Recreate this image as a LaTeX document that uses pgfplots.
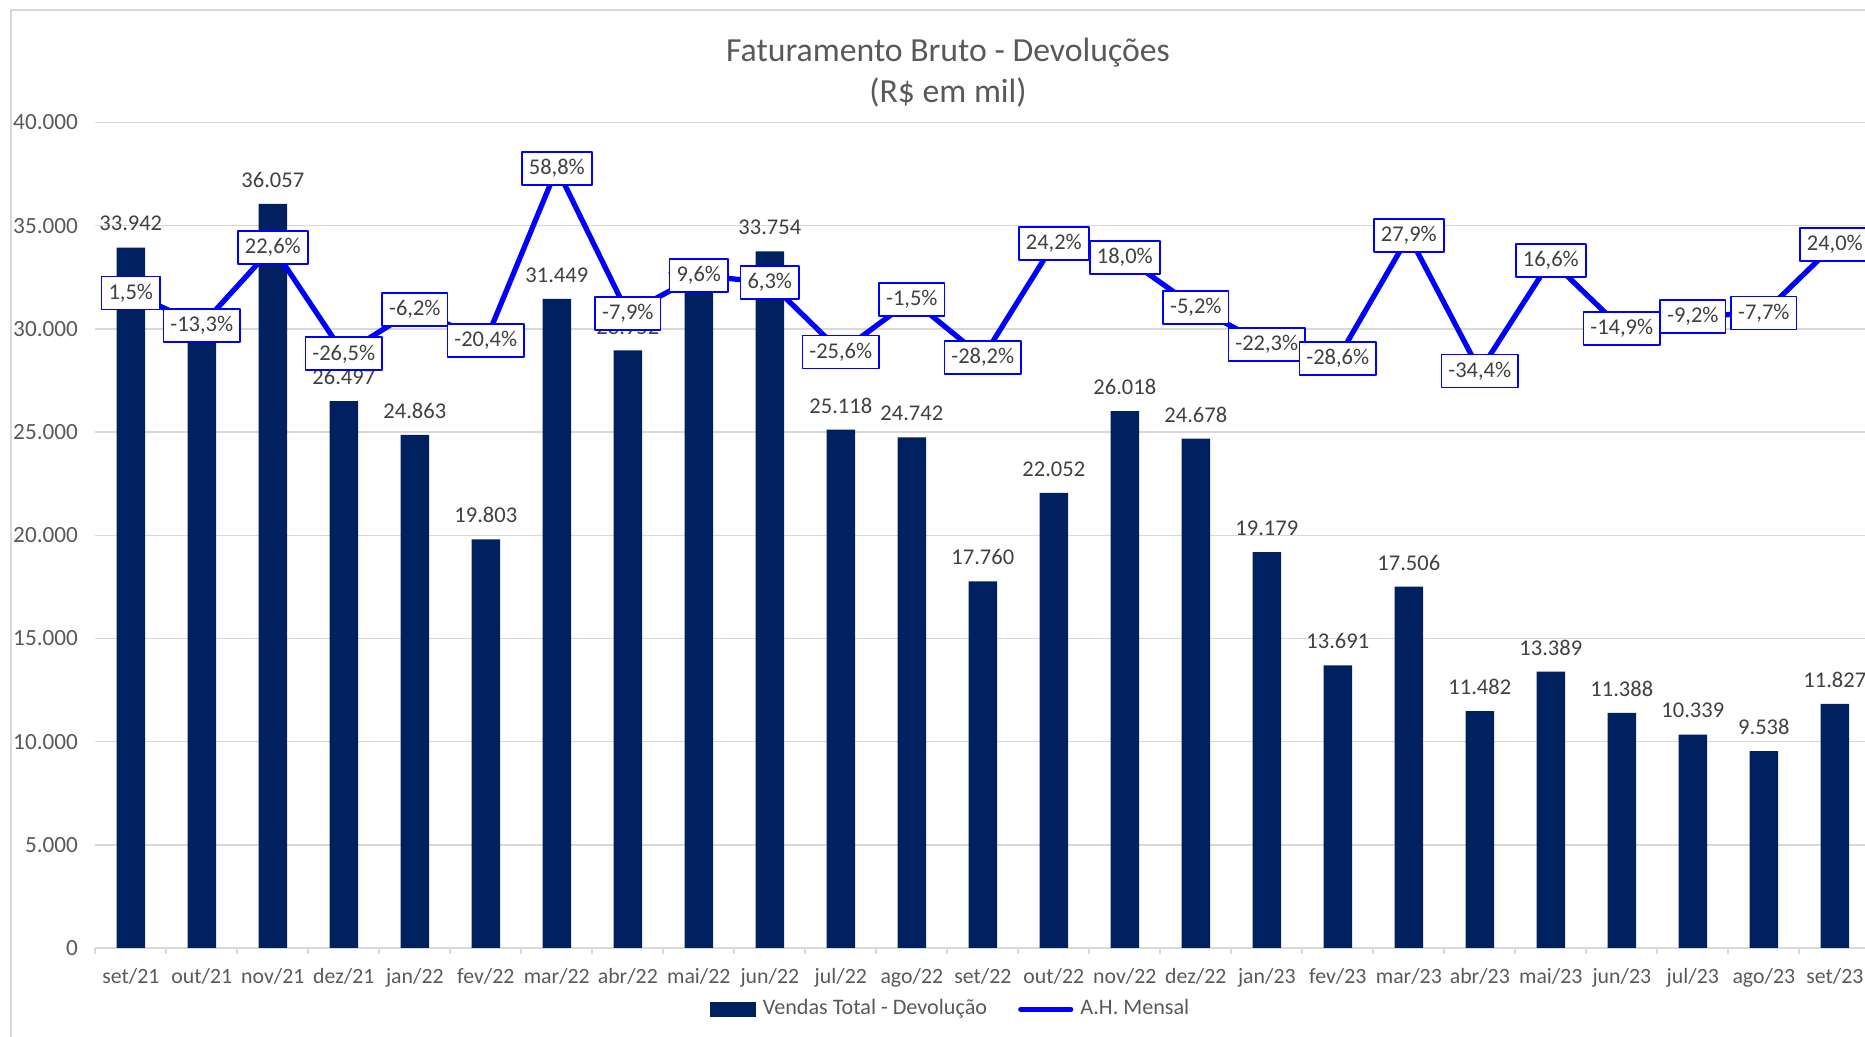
\documentclass[border=0pt]{standalone}
\usepackage{pgfplots}
\pgfplotsset{compat=1.18}
\usepackage{fontspec}
\setmainfont{Carlito}
\definecolor{navy}{HTML}{002060}
\definecolor{lineblue}{HTML}{0000FF}
\definecolor{gridgray}{HTML}{D9D9D9}
\definecolor{tickgray}{HTML}{595959}
\definecolor{labelgray}{HTML}{404040}
\begin{document}
\begin{tikzpicture}
\useasboundingbox (0,0) rectangle (18.65,10.37);
\clip (0,0) rectangle (18.65,10.37);
\draw[gridgray, line width=0.5pt] (0.11,-1) -- (0.11,10.27) -- (20,10.27);
\node[text=tickgray, font=\fontsize{9.6}{11.5}\selectfont] at (9.48,9.845) {Faturamento Bruto - Devoluções};
\node[text=tickgray, font=\fontsize{9.6}{11.5}\selectfont] at (9.48,9.445) {(R\$ em mil)};
\begin{axis}[
  at={(0.953cm,0.89cm)}, anchor=south west, scale only axis,
  width=17.75cm, height=8.255cm,
  xmin=-0.5, xmax=24.5, ymin=0, ymax=40000,
  ybar, bar width=0.285cm,
  scaled y ticks=false,
  axis x line*=bottom, axis y line*=left,
  y axis line style={draw=none},
  x axis line style={draw=gridgray, line width=0.6pt},
  ymajorgrids, grid style={gridgray, line width=0.4pt},
  ytick={0,5000,...,40000},
  yticklabels={0,5.000,10.000,15.000,20.000,25.000,30.000,35.000,40.000},
  xtick={0,...,24},
  xticklabels={set/21,out/21,nov/21,dez/21,jan/22,fev/22,mar/22,abr/22,mai/22,jun/22,jul/22,ago/22,set/22,out/22,nov/22,dez/22,jan/23,fev/23,mar/23,abr/23,mai/23,jun/23,jul/23,ago/23,set/23},
  minor xtick={-0.5,0.5,...,24.5},
  major tick length=0pt, minor tick length=0.06cm, tick align=outside,
  minor x tick style={draw=gridgray, line width=0.6pt},
  ytick style={draw=none}, major x tick style={draw=none},
  yticklabel style={font=\fontsize{6.6}{8}\selectfont, text=tickgray, xshift=-0.05cm},
  xticklabel style={font=\fontsize{6.2}{8}\selectfont, text=tickgray, yshift=-0.08cm},
  clip=false,
  nodes near coords, point meta=explicit symbolic,
  nodes near coords style={font=\fontsize{6.4}{8}\selectfont, text=labelgray, anchor=center, yshift=0.24cm},
]
\addplot[fill=navy, draw=none] coordinates {
(0,33942) [33.942]
(1,29416) [29.416]
(2,36057) [36.057]
(3,26497) [26.497]
(4,24863) [24.863]
(5,19803) [19.803]
(6,31449) [31.449]
(7,28952) [28.952]
(8,31742) [31.742]
(9,33754) [33.754]
(10,25118) [25.118]
(11,24742) [24.742]
(12,17760) [17.760]
(13,22052) [22.052]
(14,26018) [26.018]
(15,24678) [24.678]
(16,19179) [19.179]
(17,13691) [13.691]
(18,17506) [17.506]
(19,11482) [11.482]
(20,13389) [13.389]
(21,11388) [11.388]
(22,10339) [10.339]
(23,9538) [9.538]
(24,11827) [11.827]
};
\end{axis}
\begin{axis}[
  at={(0.953cm,0.89cm)}, anchor=south west, scale only axis,
  width=17.75cm, height=8.255cm,
  xmin=-0.5, xmax=24.5, ymin=-300, ymax=80,
  hide axis, clip=false,
  legend style={at={(0.4834,-0.0745)}, anchor=center, draw=none, fill=none,
    legend columns=2, font=\fontsize{6.3}{8}\selectfont, text=tickgray,
    /tikz/every even column/.append style={column sep=0.24cm},
    legend cell align=left},
]
\addlegendimage{legend image code/.code={\fill[navy] (0cm,-0.07cm) rectangle (0.44cm,0.07cm);}}
\addlegendentry{Vendas Total - Devolução}
\addplot[lineblue, line width=1.5pt, line join=round, no markers,
  nodes near coords, point meta=explicit symbolic,
  every node near coord/.append style={anchor=center, draw=lineblue, fill=white, line width=0.5pt,
    text=labelgray, font=\fontsize{6.4}{8}\selectfont, inner xsep=2pt, inner ysep=0pt,
    minimum height=0.33cm},
  legend image code/.code={\draw[lineblue, line width=1.5pt, line cap=round] (0cm,0cm) -- (0.5cm,0cm);}
] coordinates {
(0,1.5) [1,5\%]
(1,-13.3) [-13,3\%]
(2,22.6) [22,6\%]
(3,-26.5) [-26,5\%]
(4,-6.2) [-6,2\%]
(5,-20.4) [-20,4\%]
(6,58.8) [58,8\%]
(7,-7.9) [-7,9\%]
(8,9.6) [9,6\%]
(9,6.3) [6,3\%]
(10,-25.6) [-25,6\%]
(11,-1.5) [-1,5\%]
(12,-28.2) [-28,2\%]
(13,24.2) [24,2\%]
(14,18.0) [18,0\%]
(15,-5.2) [-5,2\%]
(16,-22.3) [-22,3\%]
(17,-28.6) [-28,6\%]
(18,27.9) [27,9\%]
(19,-34.4) [-34,4\%]
(20,16.6) [16,6\%]
(21,-14.9) [-14,9\%]
(22,-9.2) [-9,2\%]
(23,-7.7) [-7,7\%]
(24,24.0) [24,0\%]
};
\addlegendentry{A.H. Mensal}
\end{axis}
\end{tikzpicture}
\end{document}
